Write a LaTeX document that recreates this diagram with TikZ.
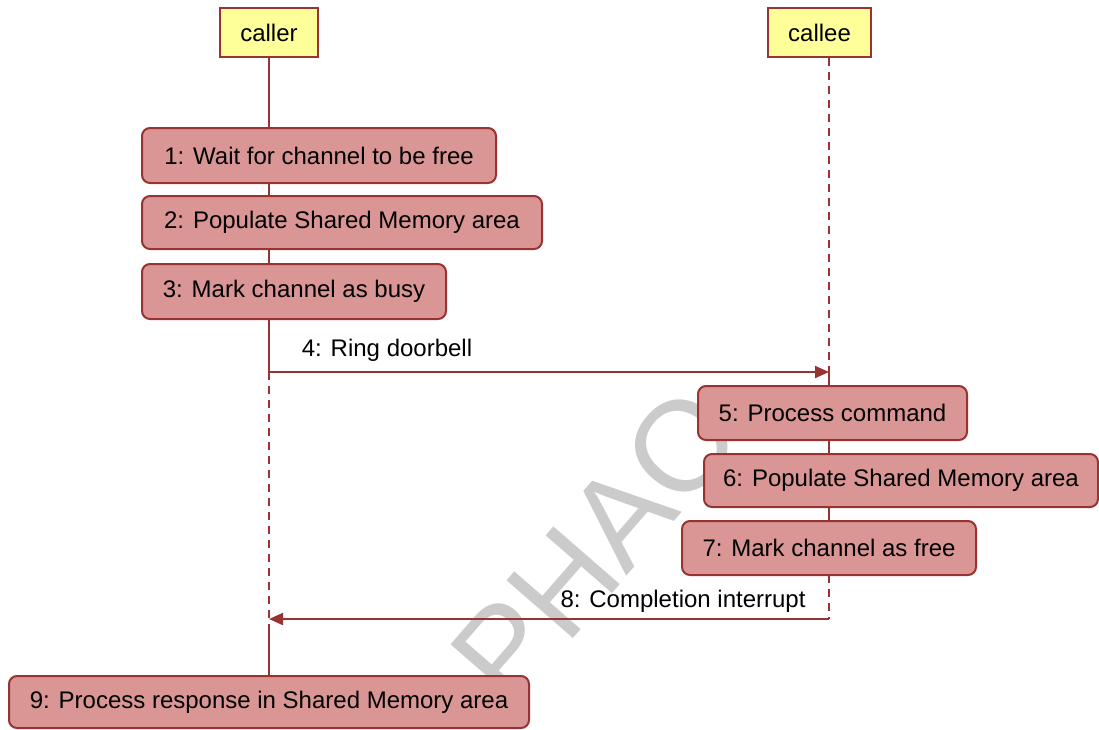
\documentclass[tikz,border=0pt]{standalone}
\usepackage{fontspec}
\setmainfont{Liberation Sans}
\usetikzlibrary{arrows.meta}
\definecolor{edge}{HTML}{993333}
\definecolor{stepfill}{HTML}{D99694}
\definecolor{actorfill}{HTML}{FFFF99}
\definecolor{mark}{HTML}{CBCBCB}
\tikzset{
  actor/.style={draw=edge, line width=2pt, fill=actorfill, inner sep=0pt,
    font=\fontsize{24}{27}\selectfont},
  stepbox/.style={draw=edge, line width=2pt, fill=stepfill, rounded corners=8pt,
    inner sep=0pt, font=\fontsize{24}{27}\selectfont},
  life/.style={draw=edge, line width=2.4pt},
  lifedash/.style={life, dash pattern=on 8pt off 6pt},
  msg/.style={draw=edge, line width=2pt, -{Triangle[length=14pt,width=12pt]}},
  msglabel/.style={font=\fontsize{24}{27}\selectfont, inner sep=0pt},
}
\begin{document}
\begin{tikzpicture}[x=1pt,y=-1pt]
\useasboundingbox (0,0) rectangle (1099,729);

% watermark
\node[text=mark, font=\fontsize{128}{128}\selectfont, rotate=49] (wm) at (596,545) {PHAO};

% actors
\node[actor, minimum width=98pt, minimum height=49pt] (caller) at (269,32.5) {caller};
\node[actor, minimum width=103pt, minimum height=49pt] (callee) at (819.5,32.5) {callee};

% message end points on the lifelines
\coordinate (a4s) at (269,372);
\coordinate (a4e) at (829,372);
\coordinate (a8s) at (829,619);
\coordinate (a8e) at (269,619);
\coordinate (c9) at (269,632);

% lifelines: solid while active, dashed while waiting
\draw[life] (caller.south) -- (a4s);
\draw[lifedash] (a4s) -- (c9);
\draw[lifedash] (a4e |- callee.south) -- (a4e);
\draw[lifedash] (829,575) -- (a8s);

% steps
\node[stepbox, minimum width=354pt, minimum height=55pt] (s1) at (319,155.5) {1: Wait for channel to be free};
\node[stepbox, minimum width=400pt, minimum height=53pt] (s2) at (342,222.5) {2: Populate Shared Memory area};
\node[stepbox, minimum width=304pt, minimum height=55pt] (s3) at (294,291.5) {3: Mark channel as busy};
\node[stepbox, minimum width=269pt, minimum height=54pt] (s5) at (832.5,413) {5: Process command};
\node[stepbox, minimum width=394pt, minimum height=53pt] (s6) at (901,480.5) {6: Populate Shared Memory area};
\node[stepbox, minimum width=294pt, minimum height=54pt] (s7) at (829,548) {7: Mark channel as free};
\node[stepbox, minimum width=520pt, minimum height=52pt] (s9) at (269,702) {9: Process response in Shared Memory area};

% active segments between steps
\draw[life] (a4e) -- (a4e |- s5.north);
\draw[life] (a4e |- s5.south) -- (a4e |- s6.north);
\draw[life] (a4e |- s6.south) -- (s7.north);
\draw[life] (c9) -- (s9.north);

% messages
\draw[msg] (a4s) -- (a4e);
\node[msglabel] (m4) at (387,350) {4: Ring doorbell};
\draw[msg] (a8s) -- (a8e);
\node[msglabel] (m8) at (683,601) {8: Completion interrupt};
\end{tikzpicture}
\end{document}
